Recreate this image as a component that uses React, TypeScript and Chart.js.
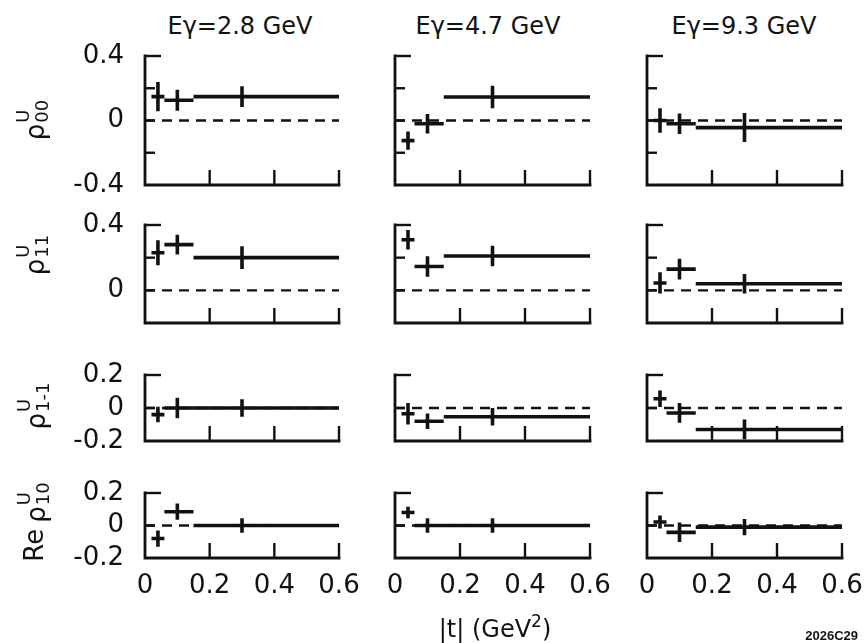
import React, { useEffect, useRef } from 'react';
import { Chart, registerables } from 'chart.js';

Chart.register(...registerables);

// ---------------- data ----------------
const ENERGY_TITLES = ['Eγ=2.8 GeV', 'Eγ=4.7 GeV', 'Eγ=9.3 GeV'];
const T_CENTER = [0.04, 0.1, 0.3];
const T_LOW = [0.02, 0.06, 0.15];
const T_HIGH = [0.06, 0.15, 0.6];
const X_TICK_VALUES = [0, 0.2, 0.4, 0.6];
const X_TICK_LABELS = ['0', '0.2', '0.4', '0.6'];

// each inner array: one photon energy (2.8, 4.7, 9.3 GeV), three |t| bins
const RHO00 = [[0.148, 0.126, 0.148], [-0.125, -0.02, 0.146], [0.0, -0.02, -0.044]];
const RHO00_ERR = [[0.09, 0.065, 0.065], [0.057, 0.06, 0.07], [0.076, 0.063, 0.09]];
const RHO11 = [[0.23, 0.28, 0.2], [0.31, 0.146, 0.21], [0.045, 0.13, 0.04]];
const RHO11_ERR = [[0.076, 0.06, 0.07], [0.06, 0.063, 0.063], [0.065, 0.063, 0.06]];
const RHO1M1 = [[-0.04, 0.0, 0.0], [-0.035, -0.08, -0.053], [0.056, -0.03, -0.13]];
const RHO1M1_ERR = [[0.047, 0.062, 0.053], [0.065, 0.047, 0.053], [0.05, 0.06, 0.06]];
const RERHO10 = [[-0.08, 0.085, 0.0], [0.08, 0.0, 0.0], [0.022, -0.042, -0.01]];
const RERHO10_ERR = [[0.05, 0.05, 0.045], [0.035, 0.045, 0.045], [0.04, 0.06, 0.05]];

const Y_MIN = [-0.4, -0.2, -0.2, -0.2];
const Y_MAX = [0.4, 0.4, 0.2, 0.2];
const Y_TICK_VALUES = [[0.4, 0, -0.4], [0.4, 0], [0.2, 0, -0.2], [0.2, 0, -0.2]];
const Y_TICK_LABELS = [['0.4', '0', '-0.4'], ['0.4', '0'], ['0.2', '0', '-0.2'], ['0.2', '0', '-0.2']];

const ROW_VALUES = [RHO00, RHO11, RHO1M1, RERHO10];
const ROW_ERRORS = [RHO00_ERR, RHO11_ERR, RHO1M1_ERR, RERHO10_ERR];
const ROW_SUBSCRIPTS = ['00', '11', '1-1', '10'];
const ROW_PREFIX = ['', '', '', 'Re '];

// ---------------- layout ----------------
const COL_L = [145, 395, 647];
const COL_R = [339, 590, 842];
const ROW_T = [56, 225, 375, 493];
const ROW_B = [185, 323, 441, 558];
const PAD = 20;
const INK = '#111';
const FONT = '"DejaVu Sans", "Liberation Sans", sans-serif';

const LABEL_POS = [
  [33, 120],
  [33, 255],
  [34, 406],
  [34, 522],
];
const TITLE_X = [240, 488, 744];

const axesPlugin = {
  id: 'panelAxes',
  afterDatasetsDraw(chart: any) {
    const { ctx } = chart;
    const xs = chart.scales.x;
    const ys = chart.scales.y;
    const x0 = xs.getPixelForValue(xs.min);
    const x1 = xs.getPixelForValue(xs.max);
    const yTop = ys.getPixelForValue(ys.max);
    const yBot = ys.getPixelForValue(ys.min);
    ctx.save();
    ctx.strokeStyle = INK;
    ctx.lineWidth = 2.8;
    ctx.lineCap = 'square';
    ctx.beginPath();
    ctx.moveTo(x0, yTop);
    ctx.lineTo(x0, yBot);
    ctx.lineTo(x1, yBot);
    ctx.stroke();
    ctx.lineCap = 'butt';
    ctx.lineWidth = 2.4;
    ys.ticks.forEach((t: any) => {
      if (Math.abs(t.value - ys.min) < 1e-9) return;
      const py = ys.getPixelForValue(t.value);
      const len = Math.abs(t.value - ys.max) < 1e-9 ? 16 : 10;
      ctx.beginPath();
      ctx.moveTo(x0, py);
      ctx.lineTo(x0 + len, py);
      ctx.stroke();
    });
    xs.ticks.forEach((t: any) => {
      if (Math.abs(t.value - xs.min) < 1e-9) return;
      const px = xs.getPixelForValue(t.value);
      ctx.beginPath();
      ctx.moveTo(px, yBot);
      ctx.lineTo(px, yBot - 15);
      ctx.stroke();
    });
    ctx.restore();
  },
};

function crossPoints(vals: number[], errs: number[]) {
  const pts: any[] = [];
  for (let i = 0; i < vals.length; i++) {
    pts.push({ x: T_LOW[i], y: vals[i] });
    pts.push({ x: T_HIGH[i], y: vals[i] });
    pts.push({ x: T_CENTER[i], y: null });
    pts.push({ x: T_CENTER[i], y: vals[i] - errs[i] });
    pts.push({ x: T_CENTER[i], y: vals[i] + errs[i] });
    pts.push({ x: T_CENTER[i], y: null });
  }
  return pts;
}

function findLabel(v: number, values: number[], labels: string[]) {
  for (let i = 0; i < values.length; i++) {
    if (Math.abs(values[i] - v) < 1e-6) return labels[i];
  }
  return '';
}

function Panel({ col, row }: { col: number; row: number }) {
  const ref = useRef<HTMLCanvasElement>(null);
  const left = col === 0 ? 0 : COL_L[col] - PAD;
  const right = COL_R[col] + PAD;
  const top = ROW_T[row] - PAD;
  const bottom = row === 3 ? 615 : ROW_B[row] + PAD;
  const w = right - left;
  const h = bottom - top;

  useEffect(() => {
    if (!ref.current) return;
    const vals = ROW_VALUES[row][col];
    const errs = ROW_ERRORS[row][col];
    const chart = new Chart(ref.current, {
      type: 'line',
      data: {
        datasets: [
          {
            data: [
              { x: 0, y: 0 },
              { x: 0.6, y: 0 },
            ],
            borderColor: INK,
            borderWidth: 2.3,
            borderDash: [10, 7],
            pointRadius: 0,
            clip: false,
          } as any,
          {
            data: crossPoints(vals, errs),
            borderColor: INK,
            borderWidth: 3.6,
            pointRadius: 0,
            spanGaps: false,
            tension: 0,
            clip: false,
          } as any,
        ],
      },
      options: {
        animation: false,
        responsive: false,
        maintainAspectRatio: false,
        events: [],
        layout: { padding: { top: PAD, right: PAD, left: 0, bottom: 0 } },
        plugins: {
          legend: { display: false },
          tooltip: { enabled: false },
          title: { display: false },
        },
        scales: {
          x: {
            type: 'linear',
            position: 'bottom',
            min: 0,
            max: 0.6,
            grid: { display: false, drawTicks: false },
            border: { display: false },
            ticks: {
              display: row === 3,
              stepSize: 0.2,
              padding: 13,
              autoSkip: false,
              maxRotation: 0,
              color: INK,
              font: { family: FONT, size: 26 },
              callback: (v: any) => findLabel(Number(v), X_TICK_VALUES, X_TICK_LABELS),
            },
            afterFit: (s: any) => {
              s.height = bottom - ROW_B[row];
              s.paddingLeft = 0;
              s.paddingRight = 0;
            },
          },
          y: {
            type: 'linear',
            position: 'left',
            min: Y_MIN[row],
            max: Y_MAX[row],
            grid: { display: false, drawTicks: false },
            border: { display: false },
            ticks: {
              display: col === 0,
              stepSize: 0.2,
              padding: 21,
              autoSkip: false,
              color: INK,
              font: { family: FONT, size: 26 },
              callback: (v: any) => findLabel(Number(v), Y_TICK_VALUES[row], Y_TICK_LABELS[row]),
            },
            afterFit: (s: any) => {
              s.width = COL_L[col] - left;
              s.paddingTop = 0;
              s.paddingBottom = 0;
            },
          },
        },
      } as any,
      plugins: [axesPlugin],
    });
    return () => chart.destroy();
  }, []);

  return (
    <canvas
      ref={ref}
      width={w}
      height={h}
      style={{ position: 'absolute', left, top, width: w, height: h }}
    />
  );
}

function RowLabel({ row }: { row: number }) {
  const [cx, cy] = LABEL_POS[row];
  return (
    <div
      style={{
        position: 'absolute',
        left: cx,
        top: cy,
        transform: 'translate(-50%, -50%) rotate(-90deg)',
        display: 'flex',
        alignItems: 'center',
        whiteSpace: 'nowrap',
        fontFamily: FONT,
        fontSize: 26,
        lineHeight: 1,
        color: INK,
      }}
    >
      {ROW_PREFIX[row] ? <span style={{ marginRight: 6 }}>{ROW_PREFIX[row].trim()}</span> : null}
      <span style={{ position: 'relative', top: 2 }}>ρ</span>
      <span
        style={{
          display: 'inline-flex',
          flexDirection: 'column',
          alignItems: 'flex-start',
          fontSize: 18,
          lineHeight: 1.05,
          marginLeft: 1,
        }}
      >
        <span>U</span>
        <span>{ROW_SUBSCRIPTS[row]}</span>
      </span>
    </div>
  );
}

export default function App() {
  const panels: any[] = [];
  for (let r = 0; r < 4; r++) {
    for (let c = 0; c < 3; c++) {
      panels.push(<Panel key={`${r}-${c}`} col={c} row={r} />);
    }
  }
  return (
    <div
      style={{
        position: 'absolute',
        left: 0,
        top: 0,
        width: 867,
        height: 643,
        background: '#fff',
        overflow: 'hidden',
        fontFamily: FONT,
        color: INK,
      }}
    >
      {ENERGY_TITLES.map((t, i) => (
        <div
          key={t}
          style={{
            position: 'absolute',
            left: TITLE_X[i],
            top: 14,
            transform: 'translateX(-50%)',
            fontSize: 24,
            lineHeight: 1,
            whiteSpace: 'nowrap',
          }}
        >
          {t}
        </div>
      ))}
      {panels}
      {[0, 1, 2, 3].map((r) => (
        <RowLabel key={r} row={r} />
      ))}
      <div
        style={{
          position: 'absolute',
          left: 495,
          top: 617,
          transform: 'translateX(-50%)',
          fontSize: 24,
          lineHeight: 1,
          whiteSpace: 'nowrap',
        }}
      >
        |t| (GeV<span style={{ fontSize: 17, position: 'relative', top: -10 }}>2</span>)
      </div>
      <div
        style={{
          position: 'absolute',
          right: 9,
          top: 629,
          fontFamily: '"Liberation Sans", Arial, sans-serif',
          fontWeight: 'bold',
          fontSize: 13,
          lineHeight: 1,
          whiteSpace: 'nowrap',
        }}
      >
        2026C29
      </div>
    </div>
  );
}
